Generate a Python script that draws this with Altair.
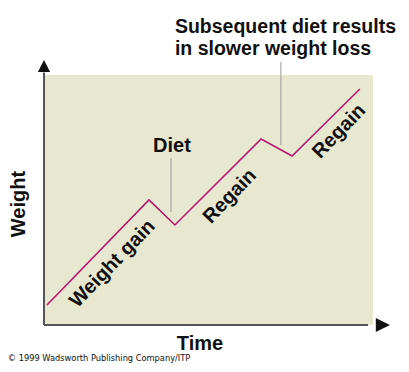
import altair as alt
import pandas as pd

# Weight curve (time, weight) in arbitrary units 0-10
time_vals = [0.09, 3.19, 3.98, 6.60, 7.54, 9.60]
weight_vals = [0.80, 5.00, 4.00, 7.44, 6.76, 9.44]

# Segment labels
seg_labels = ["Weight gain", "Regain", "Regain"]
seg_t = [2.08, 5.65, 8.97]
seg_w = [2.45, 5.15, 7.75]

# Leader lines for callouts
leader_t = [3.86, 7.20]
leader_w1 = [4.52, 7.20]
leader_w2 = [6.68, 10.52]

# Callout texts
callout_text = ["Diet", "Subsequent diet results", "in slower weight loss"]
callout_t = [3.89, 3.98, 3.98]
callout_w = [6.92, 11.68, 10.80]
callout_align = ["center", "left", "left"]

BG = "#e8e8d0"
LINE = "#b5176f"
AX = "#555555"
FONT = "Liberation Sans"

xs = alt.Scale(domain=[0, 10], nice=False, zero=False)
ys = alt.Scale(domain=[0, 10], nice=False, zero=False)

curve = pd.DataFrame({"t": time_vals, "w": weight_vals, "o": range(len(time_vals))})
line = alt.Chart(curve).mark_line(color=LINE, strokeWidth=1.6).encode(
    x=alt.X("t:Q", scale=xs, axis=None),
    y=alt.Y("w:Q", scale=ys, axis=None),
    order="o:Q",
)

leaders = pd.DataFrame({"t": leader_t, "w1": leader_w1, "w2": leader_w2})
leader = alt.Chart(leaders).mark_rule(color="#9a9a9a", strokeWidth=1).encode(
    x=alt.X("t:Q", scale=xs, axis=None),
    y=alt.Y("w1:Q", scale=ys, axis=None),
    y2="w2:Q",
)

# Axes with arrows
axes_df = pd.DataFrame({"x1": [0.0, 0.0], "x2": [9.85, 0.0], "y1": [0.0, 0.0], "y2": [0.0, 10.1]})
axes = alt.Chart(axes_df).mark_rule(color=AX, strokeWidth=2).encode(
    x=alt.X("x1:Q", scale=xs, axis=None),
    x2="x2:Q",
    y=alt.Y("y1:Q", scale=ys, axis=None),
    y2="y2:Q",
)
arrow_x = alt.Chart(pd.DataFrame({"t": [10.3], "w": [0.0]})).mark_point(
    shape="M1,0L-1,-1L-1,1Z", filled=True, color="#111111", size=200, opacity=1
).encode(x=alt.X("t:Q", scale=xs, axis=None), y=alt.Y("w:Q", scale=ys, axis=None))
arrow_y = alt.Chart(pd.DataFrame({"t": [0.0], "w": [10.36]})).mark_point(
    shape="M0,-1L1,1L-1,1Z", filled=True, color="#111111", size=150, opacity=1
).encode(x=alt.X("t:Q", scale=xs, axis=None), y=alt.Y("w:Q", scale=ys, axis=None))

segs = pd.DataFrame({"label": seg_labels, "t": seg_t, "w": seg_w})
seg_text = alt.Chart(segs).mark_text(
    font=FONT, fontWeight="bold", fontSize=20, angle=314, align="center", baseline="middle", color="#111111"
).encode(
    x=alt.X("t:Q", scale=xs, axis=None),
    y=alt.Y("w:Q", scale=ys, axis=None),
    text="label:N",
)

calls = pd.DataFrame({"label": callout_text, "t": callout_t, "w": callout_w, "a": callout_align})
call_center = alt.Chart(calls[calls.a == "center"]).mark_text(
    font=FONT, fontWeight="bold", fontSize=20, align="center", baseline="alphabetic", color="#111111"
).encode(x=alt.X("t:Q", scale=xs, axis=None), y=alt.Y("w:Q", scale=ys, axis=None), text="label:N")
call_left = alt.Chart(calls[calls.a == "left"]).mark_text(
    font=FONT, fontWeight="bold", fontSize=19.5, align="left", baseline="alphabetic", color="#111111"
).encode(x=alt.X("t:Q", scale=xs, axis=None), y=alt.Y("w:Q", scale=ys, axis=None), text="label:N")

# Axis titles
ylab = alt.Chart(pd.DataFrame({"t": [-0.76], "w": [4.84], "label": ["Weight"]})).mark_text(
    font=FONT, fontWeight="bold", fontSize=20, angle=270, align="center", baseline="middle", color="#111111"
).encode(x=alt.X("t:Q", scale=xs, axis=None), y=alt.Y("w:Q", scale=ys, axis=None), text="label:N")
xlab = alt.Chart(pd.DataFrame({"t": [4.74], "w": [-1.0], "label": ["Time"]})).mark_text(
    font=FONT, fontWeight="bold", fontSize=20, align="center", baseline="alphabetic", color="#111111"
).encode(x=alt.X("t:Q", scale=xs, axis=None), y=alt.Y("w:Q", scale=ys, axis=None), text="label:N")
credit = alt.Chart(pd.DataFrame({"t": [-1.1], "w": [-1.44], "label": ["\u00a9 1999 Wadsworth Publishing Company/ITP"]})).mark_text(
    font="DejaVu Sans Condensed, DejaVu Sans", fontSize=9.2, align="left", baseline="alphabetic", color="#111111"
).encode(x=alt.X("t:Q", scale=xs, axis=None), y=alt.Y("w:Q", scale=ys, axis=None), text="label:N")

chart = alt.layer(
    leader, line, axes, arrow_x, arrow_y, seg_text, call_center, call_left, ylab, xlab, credit
).properties(
    width=329, height=250,
    autosize=alt.AutoSizeParams(type="none"),
    padding={"left": 36, "top": 67, "right": 28, "bottom": 39},
    background="white",
).configure_view(fill=BG, stroke=None)

chart.save("out.html", embed_options={"renderer": "svg", "actions": False})
